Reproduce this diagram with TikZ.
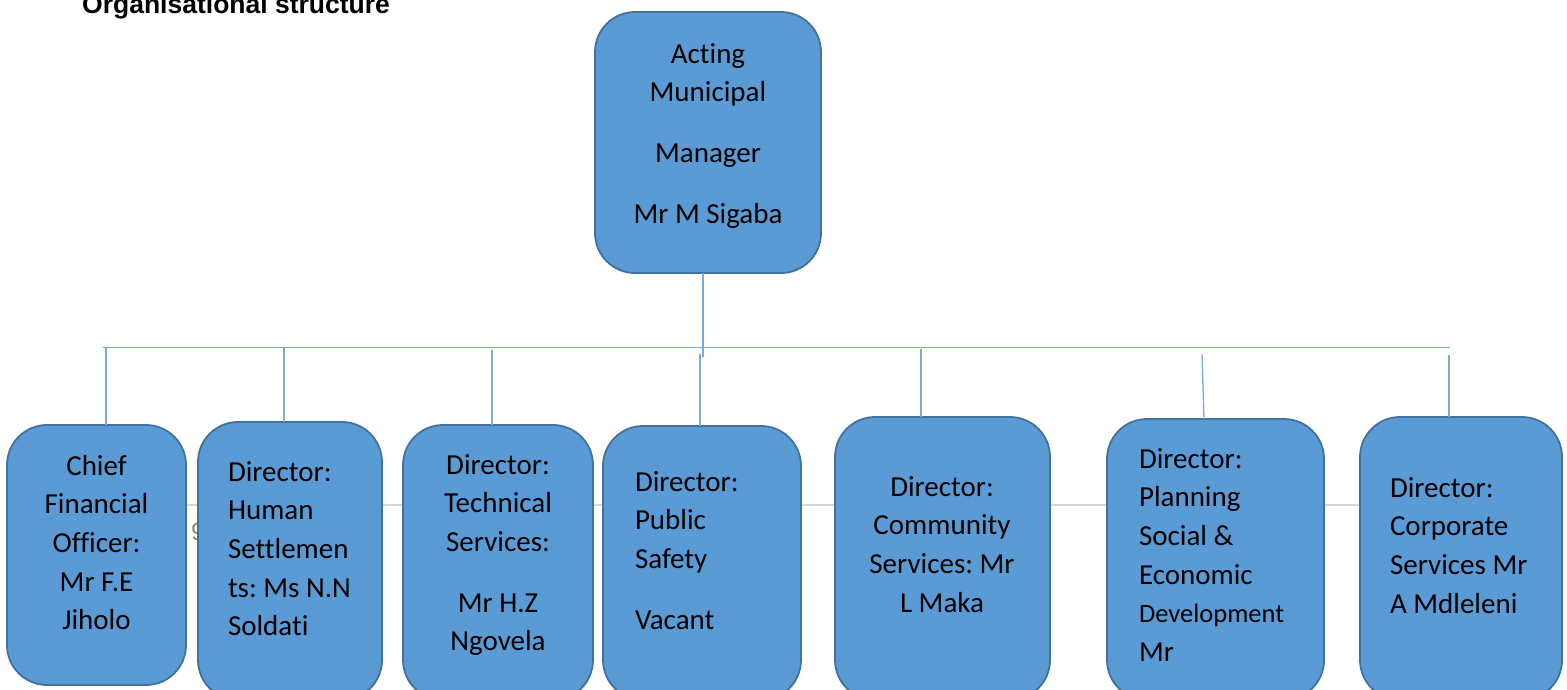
\documentclass[tikz,border=0pt]{standalone}
\usepackage{fontspec}
\setmainfont{Carlito}[Ligatures={NoCommon}]
\newfontfamily\titlefont{Liberation Sans}
\definecolor{boxfill}{RGB}{91,155,213}
\definecolor{boxline}{RGB}{65,113,156}
\definecolor{linkblue}{RGB}{125,168,220}
\definecolor{rulegrey}{RGB}{215,215,215}
\definecolor{pagegrey}{RGB}{140,140,140}
\frenchspacing
\begin{document}
\begin{tikzpicture}[x=1pt,y=-1pt,
  orgbox/.style={draw=boxline, line width=1.8pt, fill=boxfill, rounded corners=40pt,
    inner sep=0pt, outer sep=0pt, anchor=north west},
  link/.style={draw=linkblue, line width=1.3pt},
  lbl/.style={inner sep=0pt, outer sep=0pt, font=\fontsize{29}{38.7}\selectfont}]
\useasboundingbox (0,0) rectangle (1567,689);
\clip (0,0) rectangle (1567,689);

% faint page rule and page number, later covered by the boxes
\coordinate (ruleL) at (100,505);
\coordinate (ruleR) at (1460,505);
\draw[rulegrey, line width=1.5pt] (ruleL) -- (ruleR);
\node[anchor=base west, inner sep=0pt, text=pagegrey,
  font=\titlefont\fontsize{25}{30}\selectfont] (pagenum) at (191,540) {9};

% heading
\node[anchor=base west, inner sep=0pt,
  font=\titlefont\bfseries\fontsize{26.5}{30}\selectfont] (title) at (82,13.5) {Organisational structure};

% boxes
\node[orgbox, minimum width=226pt, minimum height=261pt] (mm) at (595,12) {};
\node[orgbox, minimum width=179pt, minimum height=260pt] (cfo) at (7,425) {};
\node[orgbox, minimum width=184pt, minimum height=278pt] (hs) at (198,422) {};
\node[orgbox, minimum width=190pt, minimum height=275pt] (ts) at (403,425) {};
\node[orgbox, minimum width=198pt, minimum height=274pt] (ps) at (603,426) {};
\node[orgbox, minimum width=215pt, minimum height=283pt] (cs) at (835,417) {};
\node[orgbox, minimum width=217pt, minimum height=281pt] (pl) at (1107,419) {};
\node[orgbox, minimum width=202pt, minimum height=283pt] (co) at (1360,417) {};

% connectors
\coordinate (busL) at (103,347.5);
\coordinate (busR) at (1450,347.5);
\coordinate (hub) at (703,357);
\draw[link] (busL) -- (busR);
\draw[link] (mm.south -| hub) -- (hub);
\coordinate (d1) at (106,347.5);
\coordinate (d2) at (284,347.5);
\coordinate (d3) at (492,350);
\coordinate (d4) at (700,354);
\coordinate (d5) at (921,349);
\coordinate (d6) at (1202,354);
\coordinate (e6) at (1204,419);
\coordinate (d7) at (1449,355);
\draw[link] (d1) -- (d1 |- cfo.north);
\draw[link] (d2) -- (d2 |- hs.north);
\draw[link] (d3) -- (d3 |- ts.north);
\draw[link] (d4) -- (d4 |- ps.north);
\draw[link] (d5) -- (d5 |- cs.north);
\draw[link] (d6) -- (e6);
\draw[link] (d7) -- (d7 |- co.north);

% labels
\node[lbl, anchor=base] (mm-t) at (708,63)
  {\begin{tabular}[t]{@{}c@{}}Acting\\Municipal\\[22pt]Manager\\[22pt]Mr M Sigaba\end{tabular}};
\node[lbl, anchor=base] (cfo-t) at (96.5,475)
  {\begin{tabular}[t]{@{}c@{}}Chief\\Financial\\Officer:\\Mr F.E\\Jiholo\end{tabular}};
\node[lbl, anchor=base west] (hs-t) at (228,481)
  {\begin{tabular}[t]{@{}l@{}}Director:\\Human\\Settlemen\\ts: Ms N.N\\Soldati\end{tabular}};
\node[lbl, anchor=base] (ts-t) at (498,474)
  {\begin{tabular}[t]{@{}c@{}}Director:\\Technical\\Services:\\[22pt]Mr H.Z\\Ngovela\end{tabular}};
\node[lbl, anchor=base west] (ps-t) at (635,491)
  {\begin{tabular}[t]{@{}l@{}}Director:\\Public\\Safety\\[22.5pt]Vacant\end{tabular}};
\node[lbl, anchor=base] (cs-t) at (942,496)
  {\begin{tabular}[t]{@{}c@{}}Director:\\Community\\Services: Mr\\L Maka\end{tabular}};
\node[lbl, anchor=base west] (pl-t) at (1139,468)
  {\begin{tabular}[t]{@{}l@{}}Director:\\Planning\\Social \&\\Economic\\{\fontsize{26.5}{38.7}\selectfont Development}\\Mr\end{tabular}};
\node[lbl, anchor=base west] (co-t) at (1390,497)
  {\begin{tabular}[t]{@{}l@{}}Director:\\Corporate\\Services Mr\\A Mdleleni\end{tabular}};
\end{tikzpicture}
\end{document}
